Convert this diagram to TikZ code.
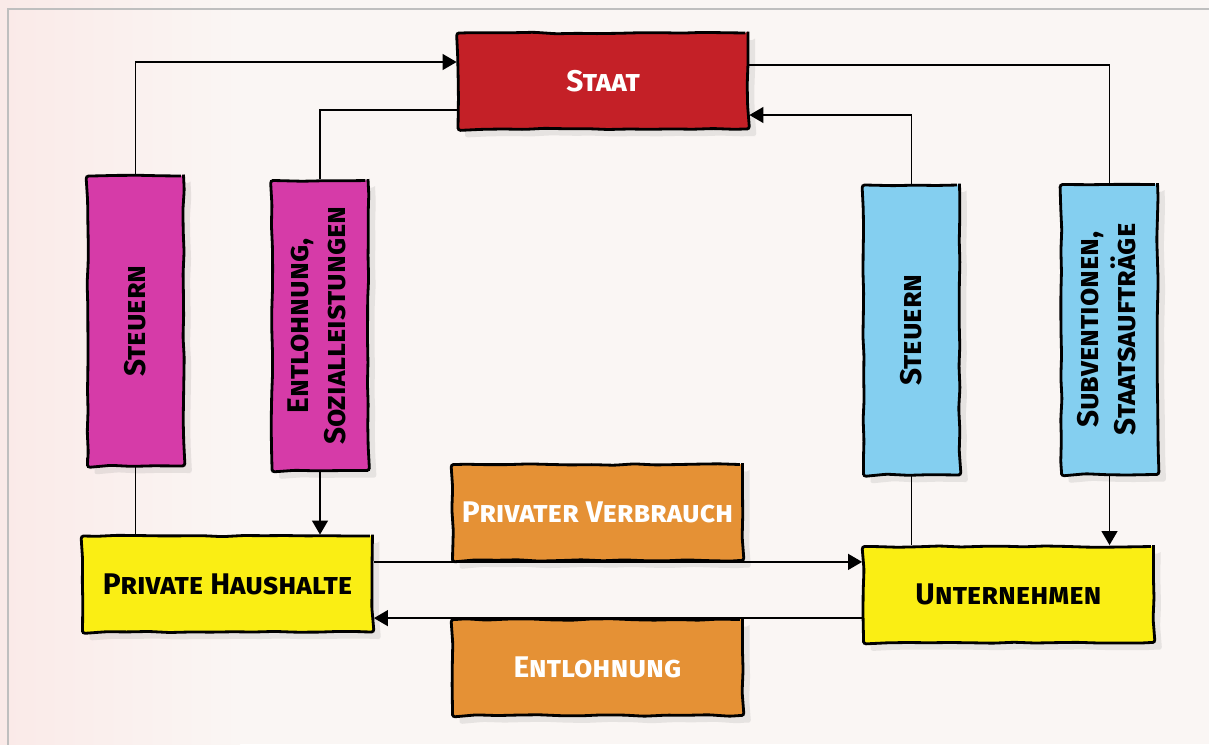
\documentclass[tikz,border=0pt]{standalone}
\usepackage{fontspec}
\setmainfont{Fira Sans}
\usepackage{graphicx}
\usetikzlibrary{arrows.meta,calc,shadows,decorations.pathmorphing}

\definecolor{staatred}{RGB}{196,32,39}
\definecolor{hhmagenta}{RGB}{214,59,168}
\definecolor{ublue}{RGB}{132,207,240}
\definecolor{boxyellow}{RGB}{250,238,20}
\definecolor{floworange}{RGB}{229,145,53}
\definecolor{bgpaper}{RGB}{250,246,244}

\begin{document}
\begin{tikzpicture}[x=0.02cm,y=-0.02cm,>={Triangle[length=8pt,width=9pt]},line width=1.1pt]
        \tikzstyle{box}=[draw=black, line width=1.6pt, inner sep=0pt, align=center,
                font=\bfseries\scshape\fontsize{17}{21}\selectfont,
                decorate, decoration={random steps,segment length=12pt,amplitude=0.45pt},
                rounded corners=1.5pt,
                drop shadow={shadow xshift=4pt, shadow yshift=-4pt, opacity=0.16}]
        \tikzstyle{hbox}=[box, minimum width=5.8cm, minimum height=1.92cm]
        \tikzstyle{vbox}=[box, minimum width=1.92cm, minimum height=5.8cm]

        \useasboundingbox (0,0) rectangle (1209,744);
        \clip (0,0) rectangle (1209,744);
        \fill[bgpaper] (0,0) rectangle (1209,744);
        \shade[left color=red!5!bgpaper, right color=bgpaper] (0,0) rectangle (240,744);
        \draw[gray!50, line width=1.7pt] (8,750) -- (8,9) -- (1215,9);

        \node[hbox, fill=staatred, text=white]     (staat) at (603,81)     {Staat};
        \node[vbox, fill=hhmagenta]                (stA)   at (135.5,321)  {\rotatebox{90}{Steuern}};
        \node[vbox, fill=hhmagenta]                (enA)   at (320,325.5)  {\rotatebox{90}{\begin{tabular}{@{}c@{}}Entlohnung,\\Sozialleistungen\end{tabular}}};
        \node[vbox, fill=ublue]                    (stB)   at (911.5,330)  {\rotatebox{90}{Steuern}};
        \node[vbox, fill=ublue]                    (sub)   at (1109.5,329.5) {\rotatebox{90}{\begin{tabular}{@{}c@{}}Subventionen,\\Staatsaufträge\end{tabular}}};
        \node[hbox, fill=boxyellow]                (ph)    at (227.5,584)  {Private Haushalte};
        \node[hbox, fill=boxyellow]                (un)    at (1008.5,594.5) {Unternehmen};
        \node[hbox, fill=floworange, text=white]   (pv)    at (597.5,512.5) {Privater Verbrauch};
        \node[hbox, fill=floworange, text=white]   (el)    at (597.5,667.5) {Entlohnung};

        % Staat
        \draw[->] (stA.north) |- ($(staat.west)+(0,-19)$);
        \draw ($(staat.west)+(0,29)$) -| (enA.north);
        \draw[->] (stB.north) |- ($(staat.east)+(0,34)$);
        \draw ($(staat.east)+(0,-16)$) -| (sub.north);

        % Haushalte / Unternehmen
        \draw (ph.north -| stA.south) -- (stA.south);
        \draw[->] (enA.south) -- (ph.north -| enA.south);
        \draw (un.north -| stB.south) -- (stB.south);
        \draw[->] (sub.south) -- (un.north -| sub.south);

        \draw[->] (ph.east |- pv.south) -- (un.west |- pv.south);
        \draw[->] (un.west |- el.north) -- (ph.east |- el.north);
\end{tikzpicture}
\end{document}
